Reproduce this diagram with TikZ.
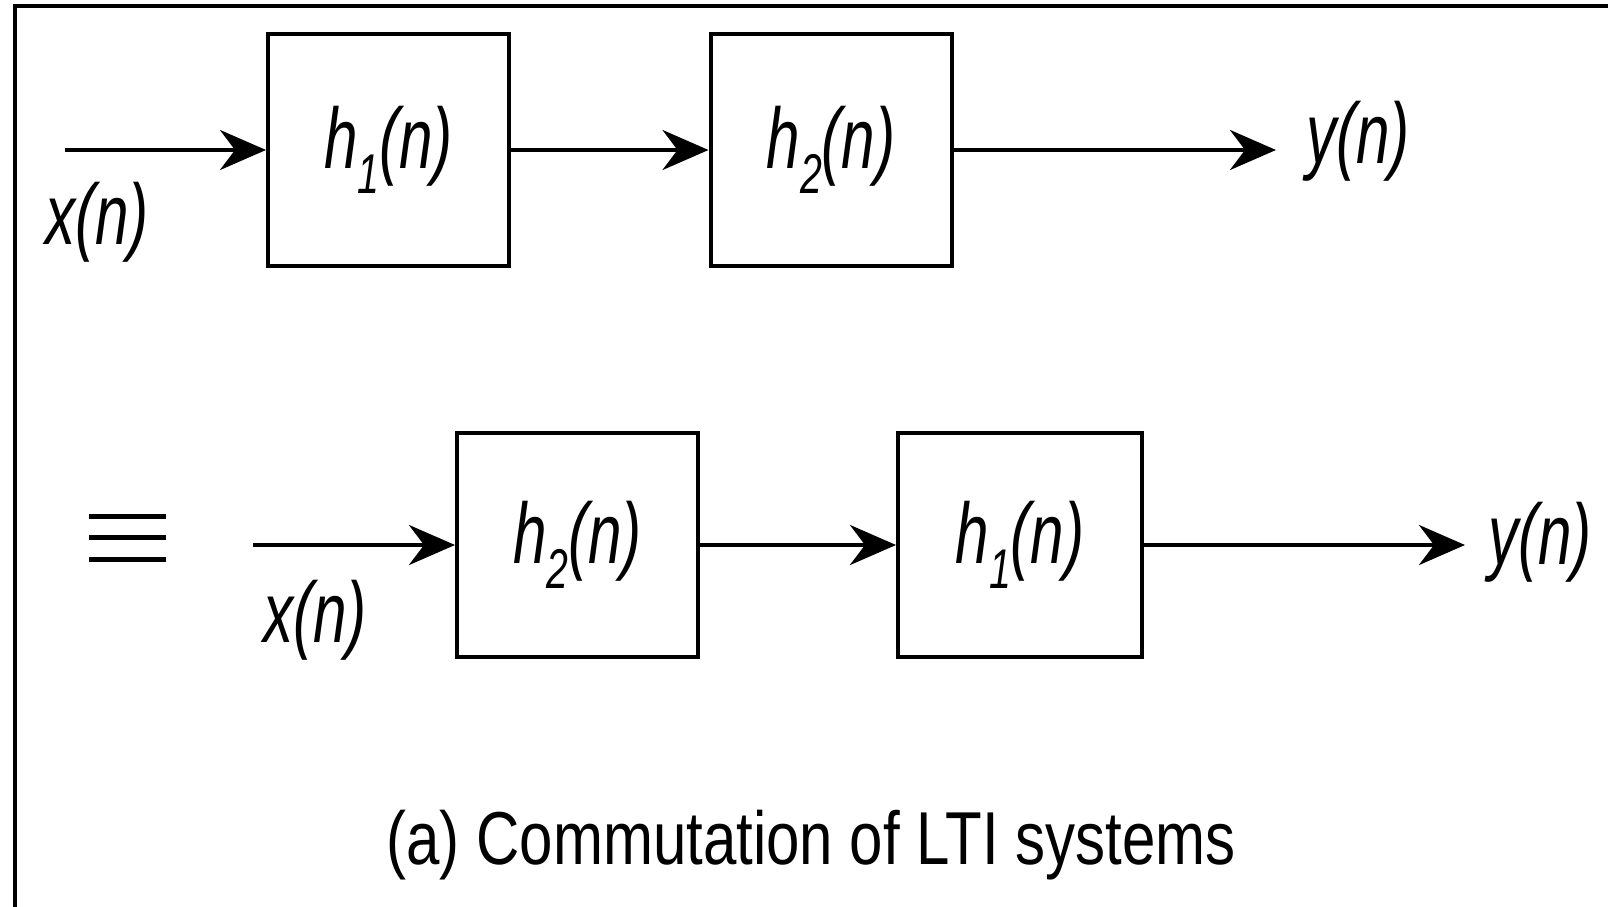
\documentclass[tikz,border=0pt]{standalone}
\usepackage{fontspec}
\setmainfont{Liberation Sans}
\usetikzlibrary{arrows.meta}
\newcommand{\sigfont}{\fontsize{86}{86}\selectfont\itshape}
\newcommand{\sublbl}[1]{\raisebox{-25pt}{\fontsize{56}{56}\selectfont #1}}
\newcommand{\condensed}[1]{\scalebox{0.70}[1]{#1}}
\begin{document}
\begin{tikzpicture}[x=1pt,y=-1pt,
  blk/.style={draw, line width=4pt, minimum width=241pt, inner sep=0pt, font=\sigfont},
  sig/.style={font=\sigfont, inner sep=0pt},
  conn/.style={line width=4pt, -{Stealth[length=46pt,width=40pt,inset=15pt]}},
  frameline/.style={line width=4pt},
  eqbar/.style={line width=5pt}
]
\useasboundingbox (0,0) rectangle (1608,907);
% frame
\draw[frameline] (15,907) -- (15,6.5) -- (1608,6.5);

% top row
\node[blk, minimum height=231pt] (b1) at (388.5,150) {\condensed{h\sublbl{1}(n)}};
\node[blk, minimum height=231pt] (b2) at (831,150) {\condensed{h\sublbl{2}(n)}};
\coordinate (xin1) at (65,150);
\coordinate (yout1) at (1276,150);
\draw[conn] (xin1) -- (b1.west);
\draw[conn] (b1.east) -- (b2.west);
\draw[conn] (b2.east) -- (yout1);
\node[sig] (x1) at (97,222) {\condensed{x(n)}};
\node[sig] (y1) at (1358,141) {\condensed{y(n)}};

% equivalence
\coordinate (eq) at (127.5,537.5);
\draw[eqbar] ([xshift=-38.5pt,yshift=21.5pt]eq) -- ([xshift=38.5pt,yshift=21.5pt]eq);
\draw[eqbar] ([xshift=-38.5pt]eq) -- ([xshift=38.5pt]eq);
\draw[eqbar] ([xshift=-38.5pt,yshift=-21.5pt]eq) -- ([xshift=38.5pt,yshift=-21.5pt]eq);

% bottom row
\node[blk, minimum height=224pt] (b3) at (577.5,545) {\condensed{h\sublbl{2}(n)}};
\node[blk, minimum height=224pt, minimum width=244pt] (b4) at (1020,545) {\condensed{h\sublbl{1}(n)}};
\coordinate (xin2) at (253,545);
\coordinate (yout2) at (1465,545);
\draw[conn] (xin2) -- (b3.west);
\draw[conn] (b3.east) -- (b4.west);
\draw[conn] (b4.east) -- (yout2);
\node[sig] (x2) at (315,620) {\condensed{x(n)}};
\node[sig] (y2) at (1540,542) {\condensed{y(n)}};

% caption
\node[font=\fontsize{75}{75}\selectfont, inner sep=0pt] (cap) at (811,845) {\scalebox{0.80}[1]{(a) Commutation of LTI systems}};
\end{tikzpicture}
\end{document}
